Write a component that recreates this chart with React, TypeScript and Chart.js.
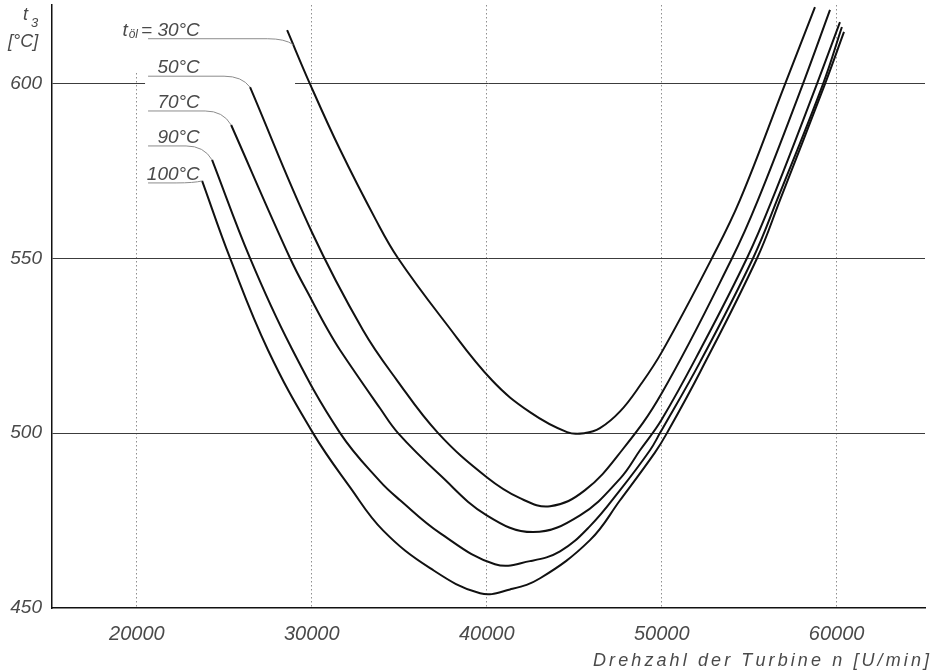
import React, { useEffect, useRef } from "react";
import { Chart, registerables } from "chart.js";

Chart.register(...registerables);

// ---- axis ticks ----
const xTicks = [20000, 30000, 40000, 50000, 60000];
const yTicks = [450, 500, 550, 600];

// ---- series: oil temperature curves (n [U/min] -> t3 [°C]) ----
const seriesNames = ["30°C", "50°C", "70°C", "90°C", "100°C"];

const n30 = [28590, 29900, 31620, 33670, 34930, 37620, 40300, 42470, 44590, 45620, 46470, 47620, 48760, 50020, 52870, 54470, 57050, 58760];
const t30 = [615.2, 599.8, 581.0, 560.9, 550.0, 531.7, 515.1, 506.0, 500.3, 500.0, 501.4, 506.2, 513.6, 523.3, 550.0, 566.6, 599.8, 621.8];

const n50 = [26470, 30000, 32930, 34870, 37220, 40000, 41900, 43620, 45620, 47730, 50000, 54020, 55500, 58070, 59620];
const t50 = [598.9, 557.5, 529.4, 515.1, 500.0, 487.4, 481.4, 479.1, 483.7, 495.1, 511.4, 550.0, 566.6, 599.8, 621.0];

const n70 = [25390, 28760, 30000, 30930, 31620, 33900, 34930, 37330, 40000, 42650, 45330, 47620, 48760, 50000, 52190, 54870, 56300, 58870, 60190];
const t70 = [588.1, 550.0, 538.0, 529.4, 523.7, 507.1, 500.0, 488.0, 476.5, 471.7, 476.5, 487.0, 495.1, 503.9, 523.7, 550.0, 566.6, 599.8, 617.5];

const n90 = [24300, 26470, 28760, 31620, 33900, 35050, 37330, 40470, 42470, 44190, 45900, 47620, 49330, 49900, 52190, 55220, 56590, 59220, 60300];
const t90 = [578.1, 550.0, 525.1, 500.0, 486.2, 480.8, 471.4, 462.5, 463.4, 466.2, 473.4, 483.7, 495.1, 500.0, 520.3, 550.0, 566.6, 599.8, 616.1];

const n100 = [23730, 25330, 27500, 30070, 32190, 34070, 36760, 39620, 41330, 43050, 45900, 47620, 49620, 50300, 52190, 55450, 56760, 59330, 60420];
const t100 = [572.1, 550.0, 523.7, 500.0, 484.5, 472.2, 461.4, 454.2, 455.3, 458.5, 469.4, 480.8, 494.5, 500.0, 517.4, 550.0, 566.6, 599.8, 614.7];

const seriesN = [n30, n50, n70, n90, n100];
const seriesT = [t30, t50, t70, t90, t100];

// ---- label layout (styling) ----
const leaderStartN = 20640; // left end of leader lines (x value)
const labelRightN = 23600; // right edge of curve label text (x value)
const joinFrac = [0.27, 0, 0, 0, 0];
const leaderDy = [-6, -11, -14, -14, 2];

const FONT = '"Liberation Sans", Arial, sans-serif';
const TXT = "#4a4a4a";

const annotPlugin = {
  id: "annot",
  beforeDatasetsDraw(chart: any) {
    const ctx = chart.ctx;
    const xs = chart.scales.x;
    const ys = chart.scales.y;
    const ca = chart.chartArea;
    const leaderLeft = xs.getPixelForValue(leaderStartN);
    const m1 = chart.getDatasetMeta(1).data[0];
    ctx.save();
    ctx.fillStyle = "#ffffff";
    const y600 = ys.getPixelForValue(600);
    ctx.fillRect(leaderLeft - 3, y600 - 2, m1.x + 45 - (leaderLeft - 3), 4);
    const x20 = xs.getPixelForValue(20000);
    ctx.fillRect(x20 - 2, ca.top, 4, m1.y + leaderDy[1] - 4 - ca.top);
    ctx.restore();
  },
  afterDraw(chart: any) {
    const ctx = chart.ctx;
    const xs = chart.scales.x;
    const leaderLeft = xs.getPixelForValue(leaderStartN);
    const textRight = xs.getPixelForValue(labelRightN);
    ctx.save();
    chart.data.datasets.forEach((ds: any, i: number) => {
      const meta = chart.getDatasetMeta(i);
      const p0 = meta.data[0];
      const p1 = meta.data[1];
      const f = joinFrac[i];
      const jx = p0.x + (p1.x - p0.x) * f;
      const jy = p0.y + (p1.y - p0.y) * f;
      const ly = jy + leaderDy[i];
      ctx.strokeStyle = "#8c8c8c";
      ctx.lineWidth = 1;
      ctx.setLineDash([]);
      ctx.beginPath();
      ctx.moveTo(leaderLeft, ly);
      ctx.lineTo(jx - 26, ly);
      ctx.quadraticCurveTo(jx - 8, ly, jx, jy);
      ctx.stroke();

      ctx.fillStyle = TXT;
      ctx.textAlign = "right";
      ctx.textBaseline = "alphabetic";
      ctx.font = `italic 19px ${FONT}`;
      if (i === 0) {
        const main = "= " + seriesNames[i];
        ctx.fillText(main, textRight, ly - 3);
        const w1 = ctx.measureText(main).width;
        ctx.font = `italic 12px ${FONT}`;
        const sub = "öl";
        const subRight = textRight - w1 - 3;
        ctx.fillText(sub, subRight, ly - 1);
        const w2 = ctx.measureText(sub).width;
        ctx.font = `italic 19px ${FONT}`;
        ctx.fillText("t", subRight - w2 - 1, ly - 3);
      } else {
        ctx.fillText(seriesNames[i], textRight, ly - 3);
      }
    });

    // y axis title
    ctx.textAlign = "left";
    ctx.fillStyle = TXT;
    ctx.font = `italic 18px ${FONT}`;
    ctx.fillText("t", 23, 20);
    ctx.font = `italic 13px ${FONT}`;
    ctx.fillText("3", 31, 27);
    ctx.font = `italic 18px ${FONT}`;
    ctx.fillText("[°C]", 8, 47);

    // x axis title with letter spacing
    const title = "Drehzahl der Turbine n [U/min]";
    ctx.font = `italic 18px ${FONT}`;
    const left = 593;
    const right = 929;
    const chars = Array.from(title);
    const widths = chars.map((c) => ctx.measureText(c).width);
    const natural = widths.reduce((a, b) => a + b, 0);
    const sp = (right - left - natural) / (chars.length - 1);
    let x = left;
    chars.forEach((c, k) => {
      ctx.fillText(c, x, 666);
      x += widths[k] + sp;
    });
    ctx.restore();
  },
};

export default function App() {
  const ref = useRef<HTMLCanvasElement | null>(null);

  useEffect(() => {
    if (!ref.current) return;
    const datasets = seriesNames.map((name, i) => ({
      label: name,
      data: seriesN[i].map((n, k) => ({ x: n, y: seriesT[i][k] })),
      borderColor: "#111111",
      borderWidth: 2,
      pointRadius: 0,
      fill: false,
      tension: 0.4,
    }));

    const chart = new Chart(ref.current, {
      type: "line",
      data: { datasets },
      plugins: [annotPlugin],
      options: {
        animation: false,
        responsive: false,
        maintainAspectRatio: false,
        layout: { padding: { top: 5, right: 12, left: 0, bottom: 0 } },
        plugins: {
          legend: { display: false },
          tooltip: { enabled: false },
        },
        scales: {
          x: {
            type: "linear",
            min: 15150,
            max: 65050,
            afterBuildTicks: (s: any) => {
              s.ticks = xTicks.map((v) => ({ value: v }));
            },
            afterFit: (s: any) => {
              s.height = 63;
              s.paddingLeft = 0;
              s.paddingRight = 0;
            },
            grid: { color: "#8f8f8f", lineWidth: 1, drawTicks: false },
            border: { display: true, color: "#111111", width: 1.5, dash: [1.5, 2.5] },
            ticks: {
              padding: 14,
              color: TXT,
              autoSkip: false,
              maxRotation: 0,
              font: { family: FONT, size: 20, style: "italic" },
              callback: (v: any) => String(v),
            },
          },
          y: {
            type: "linear",
            min: 450,
            max: 622.4,
            afterBuildTicks: (s: any) => {
              s.ticks = yTicks.map((v) => ({ value: v }));
            },
            afterFit: (s: any) => {
              s.width = 52;
              s.paddingTop = 0;
              s.paddingBottom = 0;
            },
            grid: {
              color: (c: any) => (c.tick && c.tick.value === 450 ? "rgba(0,0,0,0)" : "#3c3c3c"),
              lineWidth: 1,
              drawTicks: false,
            },
            border: { display: true, color: "#111111", width: 1.5 },
            ticks: {
              padding: 10,
              color: TXT,
              font: { family: FONT, size: 19, style: "italic" },
              callback: (v: any) => String(v),
            },
          },
        },
      },
    });
    return () => chart.destroy();
  }, []);

  return (
    <div style={{ position: "fixed", left: 0, top: 0, width: 937, height: 671, background: "#fff" }}>
      <canvas ref={ref} width={937} height={671} style={{ display: "block", width: 937, height: 671 }} />
    </div>
  );
}
